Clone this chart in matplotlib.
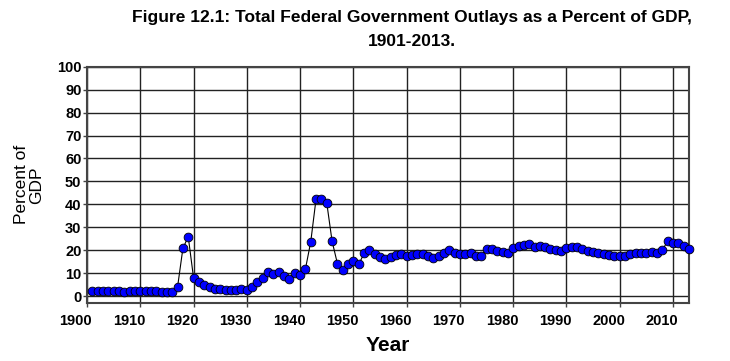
import numpy as np
import matplotlib
matplotlib.use("Agg")
import matplotlib.pyplot as plt

# === データ ===
years = np.arange(1901, 2014)
outlays_pct_gdp = [
    2.4, 2.3, 2.3, 2.4, 2.3, 2.2, 2.0, 2.1, 2.3, 2.3,   # 1901-1910
    2.2, 2.2, 2.1, 2.0, 2.0, 2.0, 4.0, 20.8, 25.9, 8.0,  # 1911-1920
    6.0, 4.8, 3.8, 3.2, 2.9, 2.8, 2.5, 2.8, 2.9, 2.6,   # 1921-1930
    3.8, 6.3, 7.7, 10.3, 9.6, 10.6, 8.7, 7.3, 10.2, 9.4,  # 1931-1940
    11.8, 23.7, 42.4, 42.3, 40.7, 24.0, 14.2, 11.3, 14.0, 15.4,  # 1941-1950
    13.8, 18.6, 20.0, 18.2, 17.2, 16.0, 16.9, 17.9, 18.3, 17.7,  # 1951-1960
    18.0, 18.2, 18.2, 17.7, 16.4, 17.7, 18.6, 20.1, 18.6, 18.2,  # 1961-1970
    18.2, 18.6, 17.7, 17.7, 20.4, 20.4, 19.5, 19.3, 18.9, 20.9,  # 1971-1980
    21.8, 22.1, 22.7, 21.5, 21.8, 21.5, 20.4, 20.1, 19.8, 20.8,  # 1981-1990
    21.2, 21.3, 20.4, 19.8, 19.3, 18.9, 18.2, 17.9, 17.7, 17.6,  # 1991-2000
    17.7, 18.3, 18.6, 18.9, 18.9, 19.2, 18.6, 20.1, 24.0, 23.0,  # 2001-2010
    23.0, 21.8, 20.4,                                            # 2011-2013
]
x_ticks = list(range(1900, 2011, 10))
y_ticks = list(range(0, 101, 10))

title = "Figure 12.1: Total Federal Government Outlays as a Percent of GDP,\n1901-2013."

plt.rcParams["font.family"] = ["Liberation Sans", "DejaVu Sans"]

fig = plt.figure(figsize=(7.30, 3.61), dpi=100)
ax = fig.add_axes([87 / 730, 1 - 303 / 361, (689 - 87) / 730, (303 - 66.7) / 361])

ax.plot(years, outlays_pct_gdp, color="black", linewidth=0.8, zorder=3,
        marker="o", markersize=6.3, markerfacecolor="#0000ff",
        markeredgecolor="black", markeredgewidth=0.6, clip_on=False)

ax.set_xlim(1900, 2013)
ax.set_ylim(-3, 100)
ax.set_xticks(x_ticks)
ax.set_yticks(y_ticks)
ax.grid(True, color="#222222", linewidth=1.0)
ax.set_axisbelow(True)
for sp in ax.spines.values():
    sp.set_color("#444444")
    sp.set_linewidth(1.5)

ax.tick_params(axis="both", direction="out", length=3, width=1, color="#444444",
               labelsize=10.5)
for lbl in ax.get_yticklabels():
    lbl.set_fontweight("bold")
ax.tick_params(axis="y", pad=1)

# x軸の目盛ラベルは元図と同じくグリッド線より少し左にずらして描く
ax.set_xticklabels([])
for t in x_ticks:
    ax.annotate(str(t), xy=(t, 0), xycoords=("data", "axes fraction"),
                xytext=(-8, -13), textcoords="offset points",
                ha="center", va="center", fontsize=10.5, fontweight="bold",
                annotation_clip=False)

ax.set_xlabel("Year", fontsize=15, fontweight="bold", labelpad=17)
ax.set_ylabel("Percent of\nGDP", fontsize=12.5, labelpad=9, linespacing=1.05)

fig.text(412 / 730, 1 - 29.5 / 361, title, ha="center", va="center",
         fontsize=12.5, fontweight="bold", linespacing=1.7)

fig.savefig("out.png", dpi=100)
